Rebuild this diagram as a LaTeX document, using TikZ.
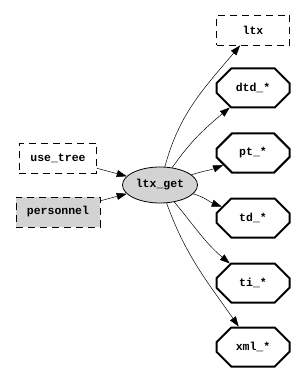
\documentclass[tikz,border=0pt]{standalone}
\usepackage{fontspec}
\setmonofont{Liberation Mono}
\usetikzlibrary{arrows.meta, shapes.geometric, shapes.misc}
\definecolor{lgray}{RGB}{211,211,211}

\begin{document}
\begin{tikzpicture}[x=1pt, y=1pt,
  every node/.style={font=\fontsize{11.5}{12}\selectfont\ttfamily\bfseries},
  dbox/.style={draw, dash pattern=on 7pt off 5pt, line width=0.8pt, minimum width=73pt, minimum height=30pt, inner xsep=11pt},
  oct/.style={draw, line width=2pt, chamfered rectangle, chamfered rectangle xsep=16pt, chamfered rectangle ysep=10pt, minimum width=73pt, minimum height=39pt, inner sep=0pt},
  edge/.style={line width=0.5pt, -{Triangle[length=10pt,width=7pt]}}]
  \useasboundingbox (0,0) rectangle (304,-379);
  \node[dbox] (ltx) at (253,-30) {ltx};
  \node[oct] (dtd) at (253,-88) {dtd\_*};
  \node[oct] (pt) at (253,-153) {pt\_*};
  \node[oct] (td) at (253,-218) {td\_*};
  \node[oct] (ti) at (253,-283) {ti\_*};
  \node[oct] (xml) at (253,-347) {xml\_*};
  \node[dbox] (usetree) at (58,-158) {use\_tree};
  \node[dbox, fill=lgray] (personnel) at (58,-212) {personnel};
  \node[draw, ellipse, fill=lgray, line width=0.8pt, minimum width=75pt, minimum height=36pt, inner sep=0pt] (get) at (160,-185) {ltx\_get};
  \draw[edge] (usetree) -- (get);
  \draw[edge] (personnel) -- (get);
  \draw[edge] (get) to[out=75, in=230] (ltx);
  \draw[edge] (get) to[out=55, in=220] (dtd);
  \draw[edge] (get) to[out=18, in=202] (pt);
  \draw[edge] (get) to[out=-15, in=160] (td);
  \draw[edge] (get) to[out=-50, in=140] (ti);
  \draw[edge] (get) to[out=-70, in=125] (xml);
\end{tikzpicture}
\end{document}
